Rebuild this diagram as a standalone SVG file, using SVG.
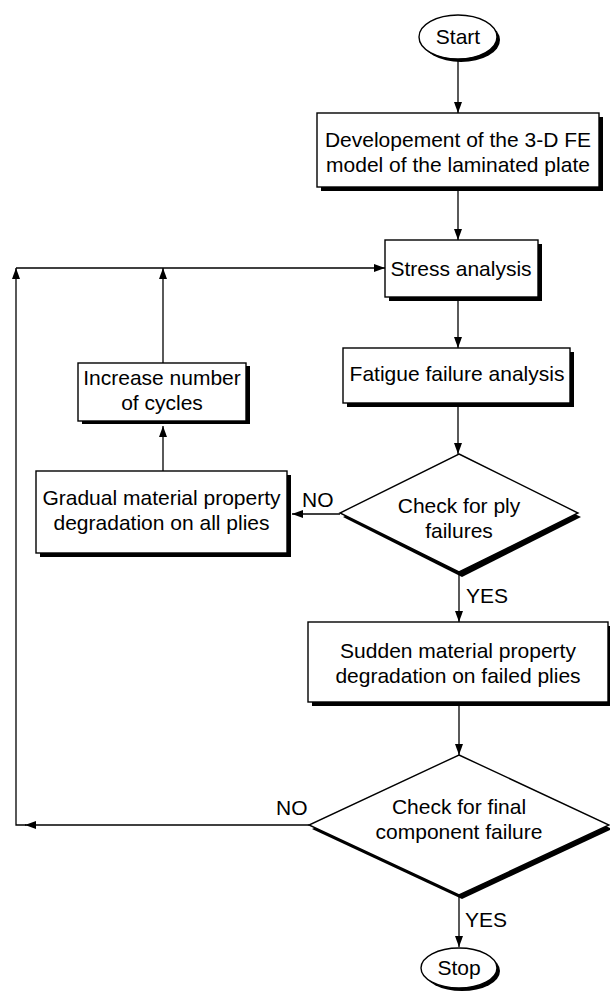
<svg xmlns="http://www.w3.org/2000/svg" width="610" height="991" viewBox="0 0 610 991">
<defs>
<style>
.box{fill:#fff;stroke:#000;stroke-width:1.4}
.sh{fill:#000;stroke:none}
.ln{fill:none;stroke:#000;stroke-width:1.3}
text{font-family:"Liberation Sans",Arial,Helvetica,sans-serif;font-size:21px;fill:#000;text-anchor:middle}
.lbl{text-anchor:start}
</style>
<marker id="ah" markerUnits="userSpaceOnUse" markerWidth="11" markerHeight="8" refX="11" refY="4" orient="auto">
<path d="M0,0 L11,4 L0,8 z" fill="#000"/>
</marker>
</defs>
<rect width="610" height="991" fill="#fff"/>

<g id="connectors">
<path class="ln" d="M458,59 L458,113" marker-end="url(#ah)"/>
<path class="ln" d="M458,187 L458,240" marker-end="url(#ah)"/>
<path class="ln" d="M458,297 L458,348" marker-end="url(#ah)"/>
<path class="ln" d="M458,403 L458,454" marker-end="url(#ah)"/>
<path class="ln" d="M459,572 L459,622" marker-end="url(#ah)"/>
<path class="ln" d="M340,514 L292,514" marker-end="url(#ah)"/>
<path class="ln" d="M163,471 L163,426" marker-end="url(#ah)"/>
<path class="ln" d="M163,363 L163,268" marker-end="url(#ah)"/>
<path class="ln" d="M459,702 L459,755" marker-end="url(#ah)"/>
<path class="ln" d="M459,895 L459,947" marker-end="url(#ah)"/>
<path class="ln" d="M309,825 L25,825" marker-end="url(#ah)"/>
<path class="ln" d="M26,825 L16,825 L16,268" marker-end="url(#ah)"/>
<path class="ln" d="M16,268 L385,268" marker-end="url(#ah)"/>
<text class="lbl" x="466" y="603">YES</text>
<text class="lbl" x="302" y="507">NO</text>
<text class="lbl" x="465" y="927">YES</text>
<text class="lbl" x="276" y="815">NO</text>
</g>

<g id="start">
<ellipse class="sh" cx="461" cy="40" rx="39" ry="22"/>
<ellipse class="box" cx="458" cy="37" rx="39" ry="22"/>
<text x="458" y="44">Start</text>
</g>

<g id="develop">
<rect class="sh" x="321" y="117" width="282" height="74"/>
<rect class="box" x="317" y="113" width="282" height="74"/>
<text x="458" y="147">Developement of the 3-D FE</text>
<text x="458" y="172">model of the laminated plate</text>
</g>

<g id="stress">
<rect class="sh" x="389" y="244" width="153" height="57"/>
<rect class="box" x="385" y="240" width="153" height="57"/>
<text x="461" y="276">Stress analysis</text>
</g>

<g id="fatigue">
<rect class="sh" x="347" y="352" width="227" height="55"/>
<rect class="box" x="343" y="348" width="227" height="55"/>
<text x="457" y="381">Fatigue failure analysis</text>
</g>

<g id="checkply">
<polygon class="sh" points="462,458 581,517 462,577 343,517"/>
<polygon class="box" points="459,454 578,513 459,572 340,513"/>
<text x="459" y="513">Check for ply</text>
<text x="459" y="538">failures</text>
</g>

<g id="gradual">
<rect class="sh" x="40" y="475" width="251" height="82"/>
<rect class="box" x="36" y="471" width="251" height="82"/>
<text x="161.5" y="505">Gradual material property</text>
<text x="161.5" y="530">degradation on all plies</text>
</g>

<g id="increase">
<rect class="sh" x="82" y="366" width="168" height="58"/>
<rect class="box" x="78" y="363" width="168" height="58"/>
<text x="162" y="385">Increase number</text>
<text x="162" y="410">of cycles</text>
</g>

<g id="sudden">
<rect class="sh" x="312" y="626" width="300" height="80"/>
<rect class="box" x="308" y="622" width="300" height="80"/>
<text x="458" y="658">Sudden material property</text>
<text x="458" y="683">degradation on failed plies</text>
</g>

<g id="checkfinal">
<polygon class="sh" points="462,759 612,829 462,899 312,829"/>
<polygon class="box" points="459,755 609,825 459,895 309,825"/>
<text x="459" y="814">Check for final</text>
<text x="459" y="839">component failure</text>
</g>

<g id="stop">
<ellipse class="sh" cx="462" cy="971" rx="38" ry="20"/>
<ellipse class="box" cx="459" cy="968" rx="38" ry="20"/>
<text x="459" y="975">Stop</text>
</g>
</svg>
